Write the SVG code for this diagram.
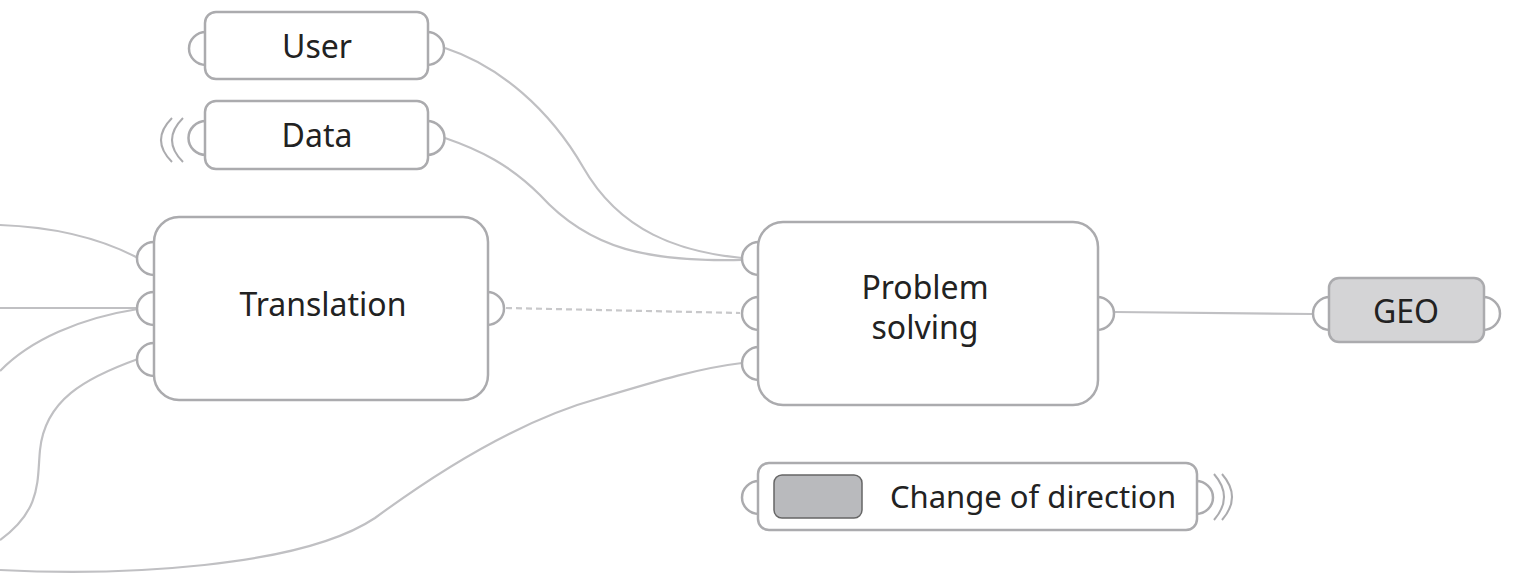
<svg xmlns="http://www.w3.org/2000/svg" width="1513" height="574" viewBox="0 0 1513 574">
<style>
.node{fill:#fff;stroke:#ababae;stroke-width:2.5}
.geo{fill:#d4d4d6;stroke:#ababae;stroke-width:2.5}
.port{fill:#fff;stroke:#ababae;stroke-width:2.5}
.wave{fill:none;stroke:#ababae;stroke-width:2}
.conn{fill:none;stroke:#c0c0c3;stroke-width:2.2}
.dash{fill:none;stroke:#c8c8ca;stroke-width:2.2;stroke-dasharray:6 4}
.lbl{font-family:"Noto Sans","Open Sans",sans-serif;font-size:32px;fill:#222;text-anchor:middle}
</style>
<rect width="1513" height="574" fill="#fff"/>
<g id="connectors">
<path class="conn" d="M445,48 C500,66 550,110 583,167 C620,232 680,252 742,258"/>
<path class="conn" d="M445,138 C480,150 510,165 540,195 C590,250 650,262 742,260"/>
<path class="conn" d="M0,225 C55,227 100,238 138,258"/>
<path class="conn" d="M0,308 L138,308"/>
<path class="conn" d="M138,309 C80,318 30,340 0,371"/>
<path class="conn" d="M138,359 C85,378 45,400 40,450 C37,480 42,510 0,540"/>
<path class="conn" d="M0,570 C120,576 300,568 375,518 C440,470 520,420 600,398 C660,380 700,368 742,363"/>
<path class="dash" d="M506,308 L740,313"/>
<path class="conn" d="M1115,312 L1312,314"/>
</g>
<g id="user">
<path class="port" d="M206,32 A17,16.5 0 0 0 206,65"/>
<path class="port" d="M427,32 A17,16.5 0 0 1 427,65"/>
<rect class="node" x="205" y="12" width="223" height="67" rx="11"/>
<text class="lbl" x="317" y="58">User</text>
</g>
<g id="data">
<path class="wave" d="M172,118 Q150,140 172,162"/>
<path class="wave" d="M183,118 Q161,140 183,162"/>
<path class="port" d="M206,121 A17,16.5 0 0 0 206,155"/>
<path class="port" d="M427,121 A17,16.5 0 0 1 427,155"/>
<rect class="node" x="205" y="101" width="223" height="68" rx="11"/>
<text class="lbl" x="317" y="147">Data</text>
</g>
<g id="translation">
<path class="port" d="M154,242 A17,16.5 0 0 0 154,275"/>
<path class="port" d="M154,292 A17,16.5 0 0 0 154,325"/>
<path class="port" d="M154,343 A17,16.5 0 0 0 154,376"/>
<path class="port" d="M487,292 A17,16.5 0 0 1 487,325"/>
<rect class="node" x="154" y="217" width="334" height="183" rx="25"/>
<text class="lbl" x="323" y="316">Translation</text>
</g>
<g id="problem">
<path class="port" d="M759,242 A17,16.5 0 0 0 759,275"/>
<path class="port" d="M759,297 A17,16.5 0 0 0 759,330"/>
<path class="port" d="M759,347 A17,16.5 0 0 0 759,380"/>
<path class="port" d="M1097,297 A17,16.5 0 0 1 1097,330"/>
<rect class="node" x="758" y="222" width="340" height="183" rx="25"/>
<text class="lbl" x="925" y="299">Problem</text>
<text class="lbl" x="925" y="339">solving</text>
</g>
<g id="geo">
<path class="port" d="M1330,297 A17,16.5 0 0 0 1330,330"/>
<path class="port" d="M1483,297 A17,16.5 0 0 1 1483,330"/>
<rect class="geo" x="1329" y="278" width="155" height="64" rx="10"/>
<text class="lbl" x="1406" y="323">GEO</text>
</g>
<g id="legend">
<path class="port" d="M759,481 A17,16.5 0 0 0 759,514"/>
<path class="port" d="M1196,481 A17,16.5 0 0 1 1196,514"/>
<path class="wave" d="M1214,474 Q1234,497 1214,520"/>
<path class="wave" d="M1222,474 Q1242,497 1222,520"/>
<rect class="node" x="758" y="463" width="439" height="67" rx="11"/>
<rect x="774" y="475" width="88" height="43" rx="8" fill="#b9babd" stroke="#666" stroke-width="1.5"/>
<text class="lbl" x="1033" y="508" style="font-size:31px">Change of direction</text>
</g>
</svg>
